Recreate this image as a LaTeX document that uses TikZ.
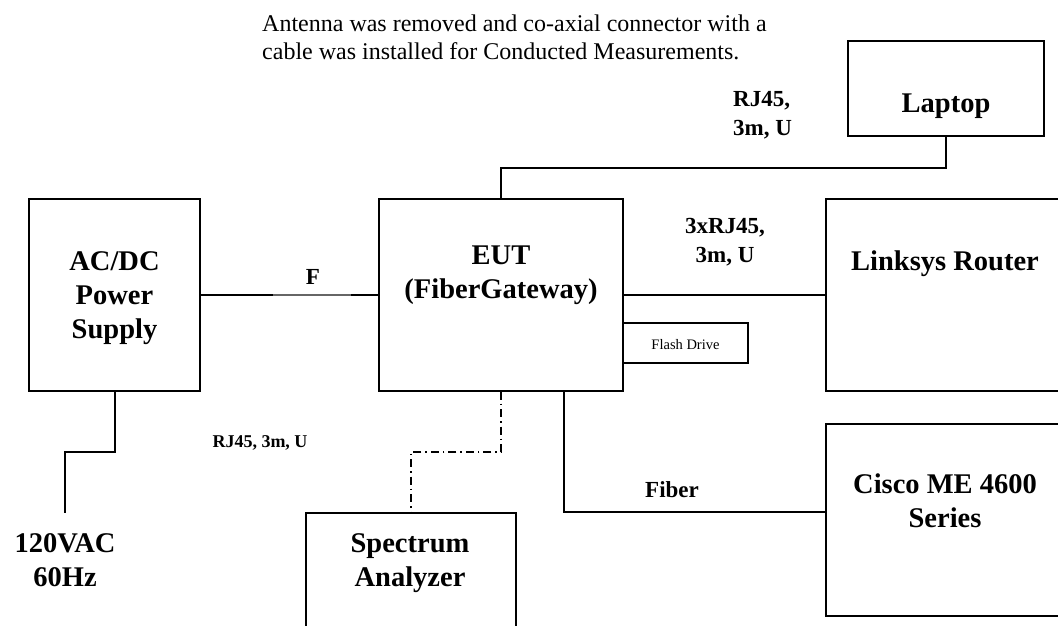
\documentclass[tikz,border=0pt]{standalone}
\usepackage{fontspec}
\setmainfont{Liberation Serif}
\begin{document}
\begin{tikzpicture}[x=1pt,y=-1pt,
  box/.style={draw=black,line width=1.3pt,inner sep=0pt,minimum width=#1},
  wire/.style={draw=black,line width=1.3pt},
  dashdotwire/.style={draw=black,line width=1.3pt,dash pattern=on 8pt off 4pt on 1.5pt off 4pt},
  big/.style={inner sep=0pt,font=\fontsize{28.5}{34}\selectfont\bfseries},
  mid/.style={inner sep=0pt,font=\fontsize{23}{29}\selectfont\bfseries},
  small/.style={inner sep=0pt,font=\fontsize{18}{22}\selectfont\bfseries},
  note/.style={inner sep=0pt,font=\fontsize{24}{28}\selectfont},
  tiny/.style={inner sep=0pt,font=\fontsize{14.5}{17}\selectfont}]
\useasboundingbox (0,0) rectangle (1058,625);
\fill[white] (0,0) rectangle (1058,625);
\clip (0,0) rectangle (1058,625);

% boxes
\node[box=171pt,minimum height=192pt] (ps) at (114.5,295) {};
\node[box=244pt,minimum height=192pt] (eut) at (501,295) {};
\node[box=196pt,minimum height=95pt] (laptop) at (946,88.5) {};
\node[box=300pt,minimum height=192pt] (linksys) at (976,295) {};
\node[box=300pt,minimum height=192pt] (cisco) at (976,520) {};
\node[box=210pt,minimum height=200pt] (spec) at (411,613) {};
\node[box=125pt,minimum height=40pt] (flash) at (685.5,343) {};

% box texts
\node[big,anchor=base] (psT) at (114.5,270) {\begin{tabular}[t]{@{}c@{}}AC/DC\\Power\\Supply\end{tabular}};
\node[big,anchor=base] (eutT) at (501,264) {\begin{tabular}[t]{@{}c@{}}EUT\\(FiberGateway)\end{tabular}};
\node[big,anchor=base] (laptopT) at (946,112) {Laptop};
\node[big,anchor=base] (linksysT) at (945,270) {Linksys Router};
\node[big,anchor=base] (ciscoT) at (945,493) {\begin{tabular}[t]{@{}c@{}}Cisco ME 4600\\Series\end{tabular}};
\node[big,anchor=base] (specT) at (410,552) {\begin{tabular}[t]{@{}c@{}}Spectrum\\Analyzer\end{tabular}};
\node[big,anchor=base] (acT) at (65,552) {\begin{tabular}[t]{@{}c@{}}120VAC\\60Hz\end{tabular}};
\node[tiny,anchor=base] (flashT) at (685.5,349) {Flash Drive};

% connector labels
\node[note,anchor=base west] (noteT) at (262,31) {\begin{tabular}[t]{@{}l@{}}Antenna was removed and co-axial connector with a\\cable was installed for Conducted Measurements.\end{tabular}};
\node[mid,anchor=base west] (rjTop) at (733,106) {\begin{tabular}[t]{@{}l@{}}RJ45,\\3m, U\end{tabular}};
\node[mid,anchor=base] (rj3x) at (725,233) {\begin{tabular}[t]{@{}c@{}}3xRJ45,\\3m, U\end{tabular}};
\node[mid,anchor=base] (fT) at (313,284) {F};
\node[small,anchor=base] (rjLeft) at (260,447) {RJ45, 3m, U};
\node[mid,anchor=base west] (fiberT) at (645,497) {Fiber};

% connectors
\coordinate (mains) at (65,513);
\draw[wire] (ps.east |- 0,295) -- (eut.west |- 0,295);
\draw[black!60,line width=1.3pt] (273,295) -- (351,295);
\draw[wire] (eut.east |- 0,295) -- (linksys.west |- 0,295);
\draw[wire] (laptop.south -| 946,0) -- (946,168) -- (501,168) -- (eut.north -| 501,0);
\draw[wire] (eut.south -| 564,0) -- (564,512) -- (cisco.west |- 0,512);
\draw[dashdotwire] (eut.south -| 501,0) -- (501,452) -- (411,452) -- (spec.north -| 411,0);
\draw[wire] (ps.south -| 115,0) -- (115,452) -- (65,452) -- (mains);
\end{tikzpicture}
\end{document}
